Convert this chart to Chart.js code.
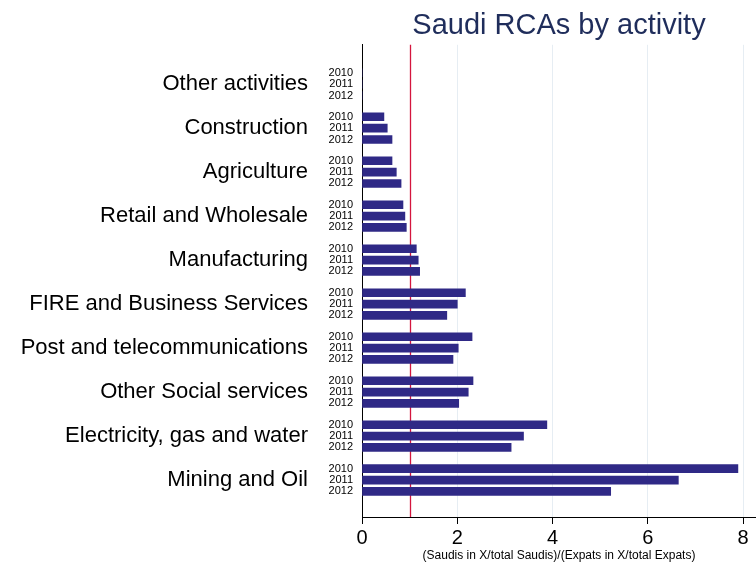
<!DOCTYPE html>
<html>
<head>
<meta charset="utf-8">
<script src="https://cdn.jsdelivr.net/npm/chart.js@4"></script>
<style>
    html, body { margin: 0; padding: 0; background: #fff; }
    #wrap { width: 756px; height: 563px; }
</style>
</head>
<body>
<div id="wrap"><canvas id="chart"></canvas></div>
<script>
const activities = [
    'Other activities',
    'Construction',
    'Agriculture',
    'Retail and Wholesale',
    'Manufacturing',
    'FIRE and Business Services',
    'Post and telecommunications',
    'Other Social services',
    'Electricity, gas and water',
    'Mining and Oil'
];
const years = ['2010', '2011', '2012'];
const rca2010 = [0, 0.46, 0.63, 0.86, 1.14, 2.17, 2.31, 2.33, 3.88, 7.89];
const rca2011 = [0, 0.53, 0.72, 0.90, 1.18, 2.00, 2.02, 2.23, 3.39, 6.64];
const rca2012 = [0, 0.63, 0.82, 0.93, 1.21, 1.78, 1.91, 2.03, 3.13, 5.22];
const xTicks = [0, 2, 4, 6, 8];
const referenceLine = 1;

const font = "'Liberation Sans', Arial, Helvetica, sans-serif";
const rowGap = 0.258;
const yRange = { min: -0.894, max: 9.84 };

// row position of one year inside an activity group
const rowPos = (g, r) => g + (r - 1) * rowGap;

const rows = [];
activities.forEach((a, g) => years.forEach((y, r) => rows.push({ value: rowPos(g, r), label: y })));

const series = [rca2010, rca2011, rca2012];

const refLinePlugin = {
    id: 'refLine',
    beforeDatasetsDraw(chart) {
        const { ctx, chartArea, scales } = chart;
        const x = Math.round(scales.x.getPixelForValue(referenceLine)) + 0.5;
        ctx.save();
        ctx.strokeStyle = '#d4163e';
        ctx.lineWidth = 1.3;
        ctx.beginPath();
        ctx.moveTo(x, chartArea.top);
        ctx.lineTo(x, chartArea.bottom);
        ctx.stroke();
        ctx.restore();
    }
};

new Chart(document.getElementById('chart'), {
    type: 'bar',
    data: {
        datasets: series.map((vals, r) => ({
            label: years[r],
            data: vals.map((v, g) => ({ x: v, y: rowPos(g, r) })),
            backgroundColor: '#2f2986',
            borderColor: '#4d47a0',
            borderWidth: 0,
            barThickness: 8,
            grouped: false
        }))
    },
    options: {
        indexAxis: 'y',
        responsive: true,
        maintainAspectRatio: false,
        animation: false,
        layout: { padding: 0 },
        plugins: {
            legend: { display: false },
            tooltip: { enabled: false },
            title: {
                display: true,
                text: 'Saudi RCAs by activity',
                fullSize: false,
                color: '#1f2d5b',
                font: { family: font, size: 29, weight: 'normal' },
                padding: { top: 9, bottom: 1 }
            }
        },
        scales: {
            x: {
                type: 'linear',
                min: 0,
                max: 8.27,
                afterBuildTicks: (scale) => { scale.ticks = xTicks.map(v => ({ value: v })); },
                afterFit: (scale) => { scale.height = 46; },
                grid: {
                    color: '#e6edf3',
                    tickColor: '#000',
                    tickLength: 7,
                    drawTicks: true
                },
                border: { display: true, color: '#000', width: 1 },
                ticks: {
                    color: '#000',
                    padding: 2,
                    maxRotation: 0,
                    font: { family: font, size: 20 }
                },
                title: {
                    display: true,
                    text: '(Saudis in X/total Saudis)/(Expats in X/total Expats)',
                    color: '#000',
                    padding: { top: 0, bottom: 0 },
                    font: { family: font, size: 12 }
                }
            },
            y: {
                type: 'linear',
                position: 'left',
                reverse: true,
                offset: false,
                min: yRange.min,
                max: yRange.max,
                weight: 0,
                afterBuildTicks: (scale) => { scale.ticks = rows.map(r => ({ value: r.value })); },
                afterFit: (scale) => { scale.width = 35; },
                grid: { display: false, drawTicks: false, offset: false },
                border: { display: true, color: '#000', width: 1 },
                ticks: {
                    autoSkip: false,
                    padding: 9,
                    color: '#000',
                    font: { family: font, size: 11 },
                    callback: (value) => {
                        const row = rows.find(r => Math.abs(r.value - value) < 0.01);
                        return row ? row.label : '';
                    }
                }
            },
            y2: {
                type: 'linear',
                position: 'left',
                reverse: true,
                offset: false,
                min: yRange.min,
                max: yRange.max,
                weight: 1,
                afterBuildTicks: (scale) => { scale.ticks = activities.map((a, g) => ({ value: g })); },
                afterFit: (scale) => { scale.width = 327; },
                grid: { display: false, drawTicks: false, offset: false },
                border: { display: false },
                ticks: {
                    autoSkip: false,
                    padding: 19,
                    color: '#000',
                    font: { family: font, size: 22 },
                    callback: (value) => activities[Math.round(value)]
                }
            }
        }
    },
    plugins: [refLinePlugin]
});
</script>
</body>
</html>
